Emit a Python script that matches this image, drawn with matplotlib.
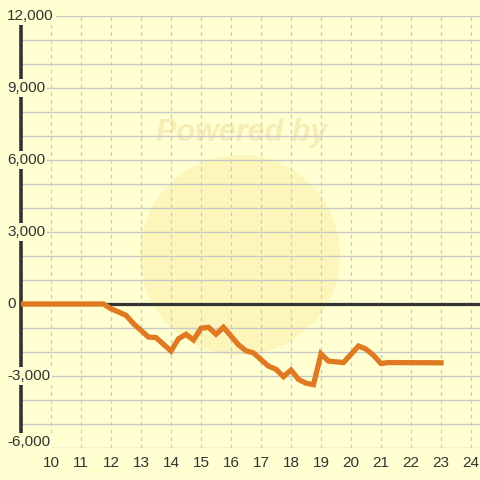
import matplotlib
matplotlib.use("Agg")
import matplotlib.pyplot as plt
from matplotlib.patches import Circle
import matplotlib.transforms as mtransforms

# Data (hour of day vs value)
hours = [9.0, 11.75, 12.0, 12.25, 12.5, 12.75, 13.25, 13.5, 14.0, 14.25, 14.5, 14.75,
         15.0, 15.25, 15.5, 15.75, 16.25, 16.5, 16.75, 17.25, 17.5, 17.75, 18.0,
         18.25, 18.5, 18.75, 19.0, 19.25, 19.75, 20.25, 20.5, 20.75, 21.0, 21.25, 23.0]
values = [0, 0, -200, -330, -470, -820, -1380, -1400, -1960, -1450, -1260, -1500,
          -1010, -970, -1260, -970, -1700, -1950, -2040, -2590, -2720, -3030, -2750,
          -3140, -3300, -3360, -2080, -2380, -2440, -1750, -1880, -2140, -2480, -2440, -2450]

x_ticks = list(range(10, 25))
y_major = [-6000, -3000, 0, 3000, 6000, 9000, 12000]
y_labels = ["-6,000", "-3,000", "0", "3,000", "6,000", "9,000", "12,000"]
y_minor = list(range(-6000, 12001, 1000))

bg = "#FFFFD2"
txt = "#333333"
font = "Liberation Sans"
fig = plt.figure(figsize=(4.8, 4.8), dpi=100)
fig.patch.set_facecolor(bg)
ax = fig.add_axes([21/480, 32/480, 459/480, 432/480])
ax.set_facecolor(bg)
ax.set_xlim(9, 24.3)
ax.set_ylim(-6000, 12000)

# watermark
circ = Circle((240/480, 1 - 255/480), 100/480, transform=fig.transFigure,
              facecolor="#FCEFA8", alpha=0.55, edgecolor="none", zorder=0.5)
ax.add_patch(circ)
ax.text(242/480, 1 - 133/480, "Powered by", transform=fig.transFigure,
        ha="center", va="center", fontsize=22, fontweight="bold", style="italic",
        color="#F6EDB6", zorder=0.6, family=font)

# grid lines
for y in y_minor:
    ax.axhline(y, color="#C9C9C9", lw=1.0, zorder=1)
for x in x_ticks:
    ax.axvline(x, color="#C9C9C9", lw=0.9, ls=(0, (3, 3)), zorder=1)

ax.axhline(0, color=txt, lw=2.3, zorder=3)

ax.plot(hours, values, color="#E07A22", lw=3.8, solid_joinstyle="miter", zorder=4)

for s in ["top", "right", "bottom"]:
    ax.spines[s].set_visible(False)
ax.spines["left"].set_color(txt)
ax.spines["left"].set_linewidth(2.6)
ax.spines["left"].set_zorder(2)

ax.set_xticks(x_ticks)
ax.set_xticklabels([str(t) for t in x_ticks], family=font)
ax.tick_params(axis="x", length=0, pad=6, labelsize=11, labelcolor=txt)
ax.set_yticks([])

# y labels drawn as text over the spine, left-aligned
trans = mtransforms.blended_transform_factory(fig.transFigure, ax.transData)
for v, lab in zip(y_major, y_labels):
    t = trans
    if v == y_major[0]:
        t = mtransforms.offset_copy(trans, fig=fig, x=0, y=6, units="dots")
    ax.text(7/480, v, lab, transform=t, ha="left", va="center",
            fontsize=11, color=txt, family=font, zorder=10, clip_on=False,
            bbox=dict(facecolor=bg, edgecolor="none", pad=1.5))

fig.savefig("out.png", dpi=100, facecolor=bg)
